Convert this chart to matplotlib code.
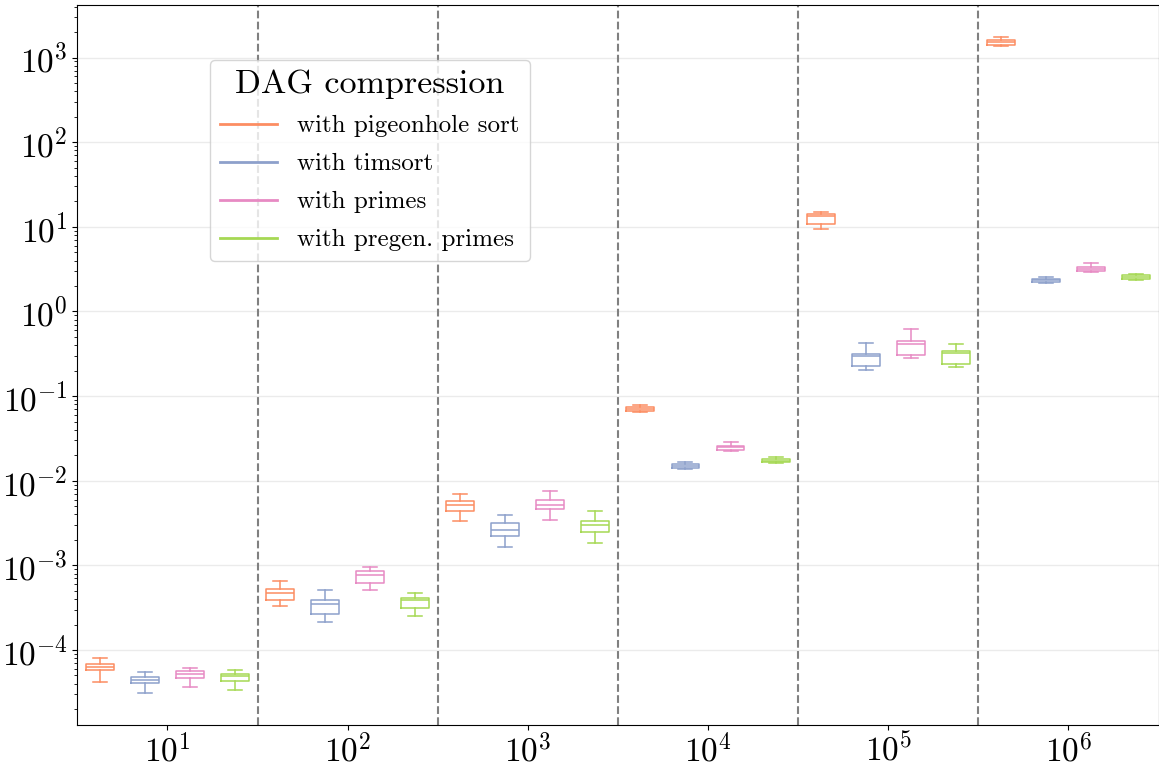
import numpy as np
import matplotlib
matplotlib.use('Agg')
import matplotlib.pyplot as plt
from matplotlib.lines import Line2D

plt.rcParams.update({
    'font.family': 'serif',
    'font.serif': ['cmr10'],
    'mathtext.fontset': 'cm',
    'axes.formatter.use_mathtext': True,
    'axes.unicode_minus': False,
})

# input sizes (one group each)
sizes = ['$10^{1}$', '$10^{2}$', '$10^{3}$', '$10^{4}$', '$10^{5}$', '$10^{6}$']
series = ['with pigeonhole sort', 'with timsort', 'with primes', 'with pregen. primes']
colors = ['#fc8d62', '#8da0cb', '#e78ac3', '#a6d854']

# (whisker low, q1, median, q3, whisker high) per size
pigeonhole = [
    (4.22e-5, 5.75e-5, 6.30e-5, 6.78e-5, 8.11e-5),
    (3.33e-4, 3.86e-4, 4.75e-4, 5.21e-4, 6.58e-4),
    (3.31e-3, 4.38e-3, 5.12e-3, 5.70e-3, 6.95e-3),
    (6.41e-2, 6.70e-2, 7.02e-2, 7.35e-2, 7.76e-2),
    (9.38, 10.8, 13.4, 14.0, 14.9),
    (1371, 1425, 1516, 1600, 1738),
]
timsort = [
    (3.13e-5, 4.04e-5, 4.42e-5, 4.76e-5, 5.50e-5),
    (2.14e-4, 2.68e-4, 3.49e-4, 3.93e-4, 5.11e-4),
    (1.66e-3, 2.22e-3, 2.64e-3, 3.18e-3, 3.96e-3),
    (1.38e-2, 1.42e-2, 1.49e-2, 1.57e-2, 1.67e-2),
    (0.203, 0.226, 0.297, 0.311, 0.426),
    (2.16, 2.22, 2.34, 2.45, 2.59),
]
primes = [
    (3.69e-5, 4.71e-5, 5.25e-5, 5.65e-5, 6.18e-5),
    (5.07e-4, 6.24e-4, 7.62e-4, 8.57e-4, 9.48e-4),
    (3.43e-3, 4.59e-3, 5.15e-3, 5.86e-3, 7.48e-3),
    (2.26e-2, 2.32e-2, 2.48e-2, 2.59e-2, 2.84e-2),
    (0.281, 0.305, 0.414, 0.443, 0.623),
    (2.91, 2.99, 3.18, 3.33, 3.75),
]
pregen_primes = [
    (3.40e-5, 4.34e-5, 4.97e-5, 5.16e-5, 5.85e-5),
    (2.54e-4, 3.16e-4, 3.86e-4, 4.07e-4, 4.67e-4),
    (1.85e-3, 2.49e-3, 2.97e-3, 3.37e-3, 4.42e-3),
    (1.62e-2, 1.65e-2, 1.72e-2, 1.80e-2, 1.89e-2),
    (0.222, 0.239, 0.324, 0.337, 0.411),
    (2.36, 2.43, 2.56, 2.68, 2.81),
]
all_data = [pigeonhole, timsort, primes, pregen_primes]

W, H = 1159, 765
fig = plt.figure(figsize=(W / 100, H / 100), dpi=100)
ax = fig.add_axes([77.3 / W, (H - 725) / H, (1158.5 - 77.3) / W, (725 - 5.3) / H])
ax.set_yscale('log')

offsets = [-0.375, -0.125, 0.125, 0.375]
for data, c, off in zip(all_data, colors, offsets):
    stats = [dict(whislo=lo, q1=q1, med=md, q3=q3, whishi=hi, fliers=[])
             for lo, q1, md, q3, hi in data]
    lp = dict(color=c, lw=1.1)
    ax.bxp(stats, positions=np.arange(len(sizes)) + off, widths=0.155,
           showfliers=False, manage_ticks=False,
           boxprops=lp, whiskerprops=lp, capprops=lp, medianprops=lp)

for x in np.arange(len(sizes) - 1) + 0.5:
    ax.axvline(x, color='gray', ls='--', lw=1.5, zorder=1)

ax.yaxis.grid(True, color='#ebebeb', lw=1)
ax.set_axisbelow(True)
ax.set_xlim(-0.5, len(sizes) - 0.5)
ax.set_ylim(10 ** -4.886, 10 ** 3.618)
ax.set_xticks(np.arange(len(sizes)), sizes)
ax.tick_params(labelsize=24)
ax.tick_params(axis='x', pad=2)

handles = [Line2D([], [], color=c, lw=2) for c in colors]
ax.legend(handles, series, title='DAG compression', loc='upper left',
          bbox_to_anchor=(0.1227, 0.924), borderaxespad=0,
          fontsize=18, title_fontsize=24.5, labelspacing=0.62,
          handlelength=2.3, framealpha=0.8)

fig.savefig('out.png', dpi=100)
